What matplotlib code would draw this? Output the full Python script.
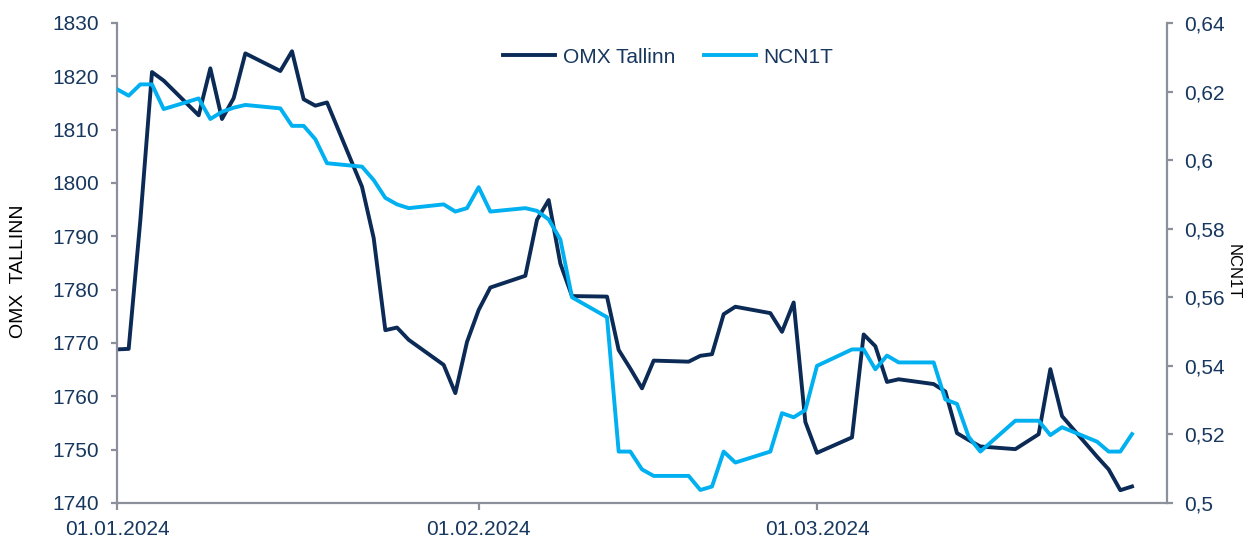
import numpy as np
import pandas as pd
import matplotlib
matplotlib.use("Agg")
import matplotlib.pyplot as plt
import matplotlib.dates as mdates
from matplotlib.ticker import FuncFormatter, MultipleLocator

plt.rcParams['font.family'] = ['Liberation Sans', 'DejaVu Sans']

# trading days Q1 2024
jan_days = [1, 2, 3, 4, 5, 8, 9, 10, 11, 12, 15, 16, 17, 18, 19, 22, 23, 24, 25, 26, 29, 30, 31]
feb_days = [1, 2, 5, 6, 7, 8, 9, 12, 13, 14, 15, 16, 19, 20, 21, 22, 23, 26, 27, 28, 29]
mar_days = [1, 4, 5, 6, 7, 8, 11, 12, 13, 14, 15, 18, 19, 20, 21, 22, 25, 26, 27, 28]

omx_tallinn = [
    1768.8, 1768.9, 1793.0, 1820.8, 1819.2, 1812.7, 1821.5, 1812.0, 1815.9, 1824.3,
    1821.0, 1824.7, 1815.7, 1814.5, 1815.1, 1799.3, 1789.7, 1772.4, 1772.9, 1770.6,
    1765.9, 1760.6, 1770.2,
    1776.2, 1780.4, 1782.6, 1793.1, 1796.8, 1784.9, 1778.8, 1778.7, 1768.7, 1765.2,
    1761.5, 1766.7, 1766.5, 1767.6, 1767.9, 1775.4, 1776.8, 1775.6, 1772.1, 1777.6,
    1755.2,
    1749.4, 1752.3, 1771.6, 1769.4, 1762.7, 1763.2, 1762.3, 1760.9, 1753.1, 1751.8,
    1750.6, 1750.1, 1751.5, 1752.9, 1765.1, 1756.3, 1748.7, 1746.3, 1742.4, 1743.1,
]

ncn1t = [
    0.6207, 0.6188, 0.6221, 0.6221, 0.6149, 0.6180, 0.6120, 0.6141, 0.6153, 0.6161,
    0.6151, 0.6100, 0.6100, 0.6061, 0.5991, 0.5981, 0.5942, 0.5890, 0.5871, 0.5860,
    0.5871, 0.5850, 0.5860,
    0.5921, 0.5850, 0.5860, 0.5852, 0.5827, 0.5769, 0.5600, 0.5542, 0.5150, 0.5150,
    0.5098, 0.5079, 0.5079, 0.5038, 0.5048, 0.5150, 0.5118, 0.5150, 0.5262, 0.5250,
    0.5271,
    0.5400, 0.5448, 0.5448, 0.5390, 0.5430, 0.5410, 0.5410, 0.5302, 0.5289, 0.5193,
    0.5150, 0.5240, 0.5240, 0.5240, 0.5198, 0.5221, 0.5179, 0.5150, 0.5150, 0.5201,
]

dates = ([pd.Timestamp(2024, 1, d) for d in jan_days] +
         [pd.Timestamp(2024, 2, d) for d in feb_days] +
         [pd.Timestamp(2024, 3, d) for d in mar_days])

dark = '#0b2a55'
light = '#00b0f0'
axis_grey = '#8c909b'
text_navy = '#17375e'

fig = plt.figure(figsize=(12.43, 5.39), dpi=100)
ax = fig.add_axes([117/1243, 36/539, 1050/1243, 480/539])
ax2 = ax.twinx()

l1, = ax.plot(dates, omx_tallinn, color=dark, lw=2.8, label='OMX Tallinn')
l2, = ax2.plot(dates, ncn1t, color=light, lw=2.8, label='NCN1T')

ax.set_xlim(pd.Timestamp(2024, 1, 1), pd.Timestamp(2024, 3, 31))
ax.set_ylim(1740, 1830)
ax2.set_ylim(0.5, 0.64)
ax.yaxis.set_major_locator(MultipleLocator(10))
ax2.yaxis.set_major_locator(MultipleLocator(0.02))
ax2.yaxis.set_major_formatter(FuncFormatter(lambda v, p: f"{v:.2f}".rstrip('0').rstrip('.').replace('.', ',')))

ax.set_xticks([pd.Timestamp(2024, 1, 1), pd.Timestamp(2024, 2, 1), pd.Timestamp(2024, 3, 1)])
ax.xaxis.set_major_formatter(mdates.DateFormatter('%d.%m.%Y'))

for a in (ax, ax2):
    a.spines['top'].set_visible(False)
    for s in ('left', 'right', 'bottom'):
        a.spines[s].set_color(axis_grey)
        a.spines[s].set_linewidth(1.6)
    a.tick_params(colors=axis_grey, labelcolor=text_navy, labelsize=15, width=1.6)
ax.spines['right'].set_visible(False)
ax2.spines['left'].set_visible(False)
ax2.spines['bottom'].set_visible(False)
ax.tick_params(axis='y', length=4, pad=9)
ax.tick_params(axis='x', length=5, pad=7)
ax2.tick_params(axis='y', length=4.5, pad=8)

fig.text(19/1243, 1 - 271/539, 'OMX  TALLINN', rotation=90, ha='center', va='center',
         fontsize=14, color='black')
fig.text(1233/1243, 1 - 272/539, 'NCN1T', rotation=270, ha='center', va='center',
         fontsize=12, color='black')

leg = ax2.legend([l1, l2], ['OMX Tallinn', 'NCN1T'], loc='center', bbox_to_anchor=(0.525, 0.929),
                 ncol=2, frameon=False, fontsize=15, handlelength=2.5, handletextpad=0.35,
                 columnspacing=1.4)
for t in leg.get_texts():
    t.set_color(text_navy)

fig.savefig('out.png', dpi=100)
